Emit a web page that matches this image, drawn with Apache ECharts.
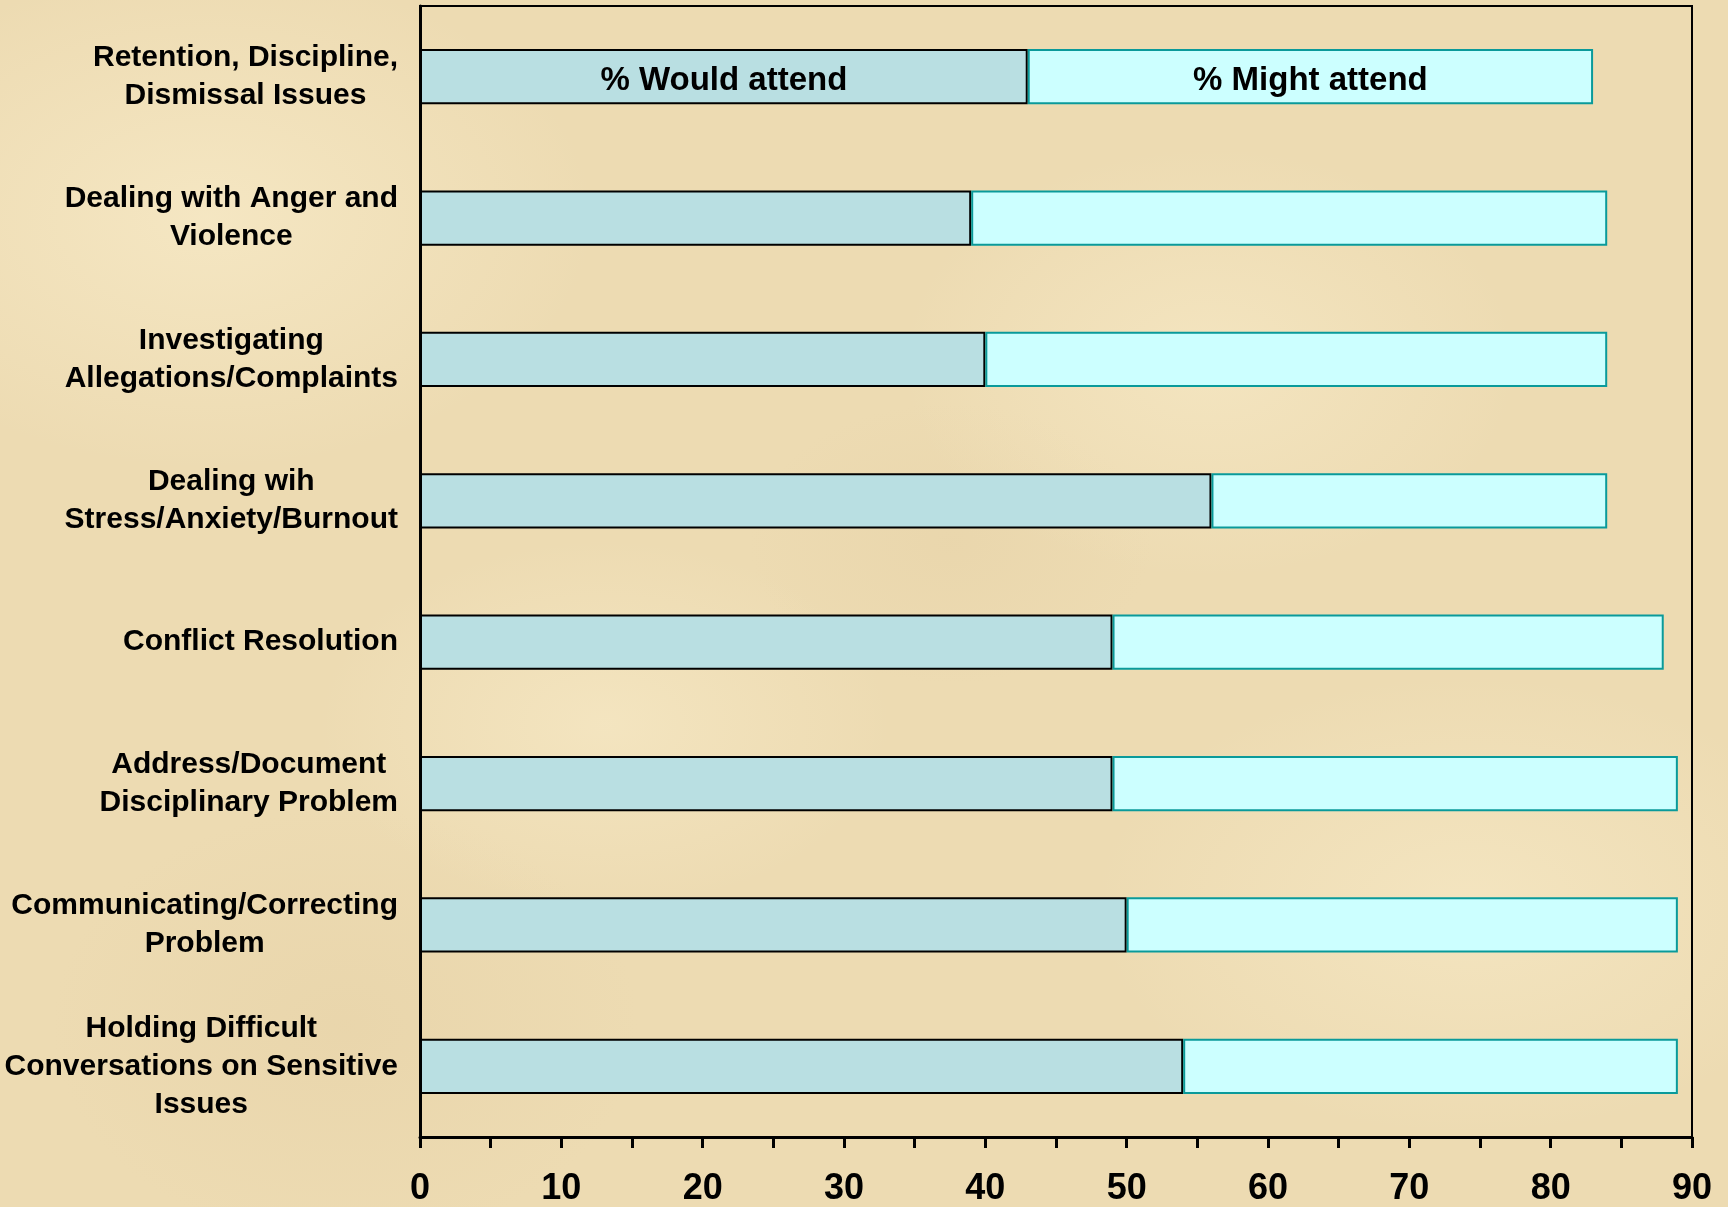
<!DOCTYPE html>
<html>
<head>
<meta charset="utf-8">
<script src="https://cdn.jsdelivr.net/npm/echarts@6/dist/echarts.min.js"></script>
<style>
html, body { margin: 0; padding: 0; width: 100%; height: 100%; }
body {
  background-color: #EDDBB2;
  background-image:
    radial-gradient(ellipse at 12% 18%, rgba(250,238,205,0.6) 0%, rgba(250,238,205,0) 18%),
    radial-gradient(ellipse at 70% 30%, rgba(250,238,205,0.5) 0%, rgba(250,238,205,0) 18%),
    radial-gradient(ellipse at 35% 60%, rgba(250,238,205,0.5) 0%, rgba(250,238,205,0) 18%),
    radial-gradient(ellipse at 85% 75%, rgba(250,238,205,0.5) 0%, rgba(250,238,205,0) 18%),
    radial-gradient(ellipse at 20% 85%, rgba(226,204,160,0.35) 0%, rgba(226,204,160,0) 15%),
    radial-gradient(ellipse at 55% 45%, rgba(226,204,160,0.3) 0%, rgba(226,204,160,0) 15%);
}
#chart { width: 1728px; height: 1207px; }
</style>
</head>
<body>
<div id="chart"></div>
<script>
var categories = [
  'Retention, Discipline,\nDismissal Issues',
  'Dealing with Anger and\nViolence',
  'Investigating\nAllegations/Complaints',
  'Dealing wih\nStress/Anxiety/Burnout',
  'Conflict Resolution',
  'Address/Document\nDisciplinary Problem',
  'Communicating/Correcting\nProblem',
  'Holding Difficult\nConversations on Sensitive\nIssues'
];
var wouldAttend = [43, 39, 40, 56, 49, 49, 50, 54];
var mightAttend = [40, 45, 44, 28, 39, 40, 39, 35];
var seriesNames = ['% Would attend', '% Might attend'];
var xTicks = { min: 0, max: 90, interval: 10 };

var FONT = "'Liberation Sans', Arial, Helvetica, sans-serif";

function withFirstLabel(values, name) {
  return values.map(function (v, i) {
    if (i === 0) {
      return {
        value: v,
        label: {
          show: true,
          position: 'inside',
          offset: [0, 4],
          formatter: name,
          color: '#000',
          fontFamily: FONT,
          fontWeight: 'bold',
          fontSize: 33
        }
      };
    }
    return v;
  });
}

var chart = echarts.init(document.getElementById('chart'), null, { renderer: 'canvas' });
chart.setOption({
  backgroundColor: 'transparent',
  animation: false,
  grid: {
    left: 420, right: 36, top: 6, bottom: 69,
    show: true, borderColor: '#000', borderWidth: 2, backgroundColor: 'transparent'
  },
  xAxis: {
    type: 'value',
    min: xTicks.min, max: xTicks.max, interval: xTicks.interval,
    axisLine: { show: true, onZero: false, lineStyle: { color: '#000', width: 3 } },
    axisTick: { show: true, length: 11, lineStyle: { color: '#000', width: 3 } },
    minorTick: { show: true, splitNumber: 2, length: 11, lineStyle: { color: '#000', width: 3 } },
    splitLine: { show: false },
    axisLabel: {
      color: '#000', fontFamily: FONT, fontWeight: 'bold', fontSize: 36, margin: 34
    }
  },
  yAxis: {
    type: 'category',
    inverse: true,
    data: categories,
    axisLine: { show: true, lineStyle: { color: '#000', width: 3 } },
    axisTick: { show: false },
    splitLine: { show: false },
    axisLabel: {
      margin: 22,
      color: '#000',
      fontFamily: FONT,
      fontWeight: 'bold',
      fontSize: 30,
      lineHeight: 38,
      formatter: function (v) {
        return v.split('\n').map(function (l) { return '{c|' + l + '}'; }).join('\n');
      },
      rich: {
        c: {
          align: 'center', color: '#000', fontFamily: FONT, fontWeight: 'bold',
          fontSize: 30, lineHeight: 38
        }
      }
    }
  },
  series: [
    {
      name: seriesNames[0],
      type: 'bar',
      stack: 'total',
      barCategoryGap: '61%',
      data: withFirstLabel(wouldAttend, seriesNames[0]),
      itemStyle: { color: '#B9DFE2', borderColor: '#000', borderWidth: 2 }
    },
    {
      name: seriesNames[1],
      type: 'bar',
      stack: 'total',
      barCategoryGap: '61%',
      data: withFirstLabel(mightAttend, seriesNames[1]),
      itemStyle: { color: '#CCFFFF', borderColor: '#0A9A9A', borderWidth: 2 }
    }
  ]
});
</script>
</body>
</html>
